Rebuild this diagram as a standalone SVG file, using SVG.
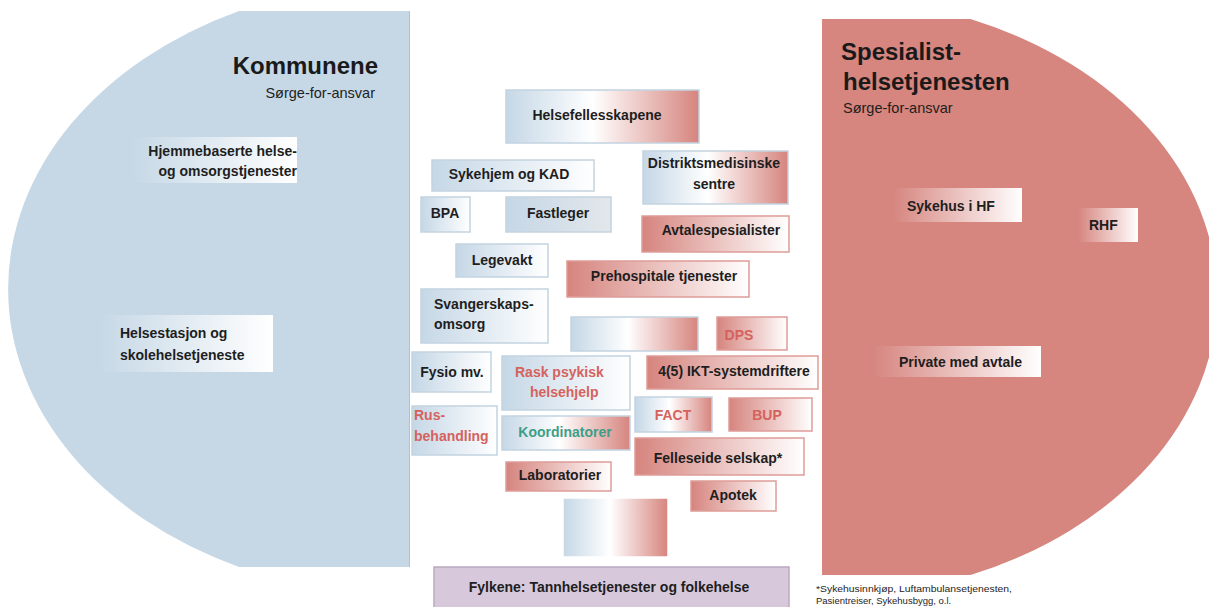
<svg xmlns="http://www.w3.org/2000/svg" width="1209" height="607" viewBox="0 0 1209 607">
<defs>
<linearGradient id="gB" x1="0" y1="0" x2="1" y2="0"><stop offset="0" stop-color="#C5D7E6"/><stop offset="1" stop-color="#FFFFFF"/></linearGradient>
<linearGradient id="gBg" x1="0" y1="0" x2="1" y2="0"><stop offset="0" stop-color="#C5D7E6"/><stop offset="1" stop-color="#E3E7EB"/></linearGradient>
<linearGradient id="gR" x1="0" y1="0" x2="1" y2="0"><stop offset="0" stop-color="#D6847E"/><stop offset="1" stop-color="#FFFFFF"/></linearGradient>
<linearGradient id="gBWR" x1="0" y1="0" x2="1" y2="0"><stop offset="0" stop-color="#C5D7E6"/><stop offset="0.45" stop-color="#FFFFFF"/><stop offset="1" stop-color="#D6847E"/></linearGradient>
<linearGradient id="gBf" x1="0" y1="0" x2="1" y2="0"><stop offset="0" stop-color="#C6D8E6"/><stop offset="1" stop-color="#FFFFFF"/></linearGradient>
<linearGradient id="gRf" x1="0" y1="0" x2="1" y2="0"><stop offset="0" stop-color="#D6857F"/><stop offset="1" stop-color="#FFFFFF"/></linearGradient>
<style>
.t{font-family:"Liberation Sans",Arial,sans-serif;font-weight:bold;font-size:14px;fill:#1E1E1E}
.m{text-anchor:middle}
.e{text-anchor:end}
.tr{fill:#D5625D}
.tg{fill:#3E9E87}
.h{font-family:"Liberation Sans",Arial,sans-serif;font-weight:bold;font-size:24px;fill:#1A1A1A}
.s{font-family:"Liberation Sans",Arial,sans-serif;font-size:14.5px;fill:#1E1E1E}
.fn{font-family:"Liberation Sans",Arial,sans-serif;font-size:9.5px;fill:#1E1E1E}
.bb{stroke:#C3D3E0;stroke-width:1.5}
.rb{stroke:#DE9C98;stroke-width:1.5}
</style>
</defs>
<rect width="1209" height="607" fill="#FFFFFF"/>
<g id="kommunene">
<path d="M409,11 L239,11 A401,307 0 0 0 239,567 L409,567 Z" fill="#C6D8E6"/>
<line x1="409.5" y1="11" x2="409.5" y2="567" stroke="#B0C0CE" stroke-width="1"/>
<text class="h" x="378" y="74" text-anchor="end">Kommunene</text>
<text class="s" x="375" y="98" text-anchor="end">Sørge-for-ansvar</text>
</g>
<g id="spesialist">
<path d="M822,19 L970.5,19 A395,300 0 0 1 970.5,575 L822,575 Z" fill="#D6857F"/>
<text class="h" x="841" y="60">Spesialist-</text>
<text class="h" x="843" y="90">helsetjenesten</text>
<text class="s" x="843" y="113">Sørge-for-ansvar</text>
</g>
<g id="hjemmebaserte"><rect x="133" y="137" width="164" height="46" fill="url(#gBf)"/><text class="t e" x="297" y="156">Hjemmebaserte helse-</text><text class="t e" x="297" y="176">og omsorgstjenester</text></g>
<g id="helsestasjon"><rect x="100" y="315" width="173" height="57" fill="url(#gBf)"/><text class="t" x="120" y="338">Helsestasjon og</text><text class="t" x="120" y="360">skolehelsetjeneste</text></g>
<g id="sykehus"><rect x="893" y="188" width="129" height="34" fill="url(#gRf)"/><text class="t" x="907" y="211">Sykehus i HF</text></g>
<g id="rhf"><rect x="1078" y="208" width="60" height="34" fill="url(#gRf)"/><text class="t" x="1089" y="230">RHF</text></g>
<g id="private"><rect x="873" y="346" width="168" height="31" fill="url(#gRf)"/><text class="t" x="899" y="367">Private med avtale</text></g>
<g id="helsefellesskapene"><rect x="506" y="90" width="193" height="53" fill="url(#gBWR)" class="bb"/><text class="t m" x="597" y="120">Helsefellesskapene</text></g>
<g id="sykehjem"><rect x="432" y="160" width="162" height="31" fill="url(#gB)" class="bb"/><text class="t m" x="509" y="179">Sykehjem og KAD</text></g>
<g id="dms"><rect x="643" y="151" width="145" height="53" fill="url(#gBWR)" class="bb"/><text class="t m" x="714" y="168">Distriktsmedisinske</text><text class="t m" x="714" y="189">sentre</text></g>
<g id="bpa"><rect x="421" y="197" width="49" height="35" fill="url(#gB)" class="bb"/><text class="t m" x="445" y="218">BPA</text></g>
<g id="fastleger"><rect x="506" y="197" width="105" height="35" fill="url(#gBg)" class="bb"/><text class="t m" x="558" y="218">Fastleger</text></g>
<g id="avtalespesialister"><rect x="642" y="216" width="147" height="36" fill="url(#gR)" class="rb"/><text class="t m" x="721" y="235">Avtalespesialister</text></g>
<g id="legevakt"><rect x="456" y="244" width="92" height="33" fill="url(#gB)" class="bb"/><text class="t m" x="502" y="265">Legevakt</text></g>
<g id="prehospitale"><rect x="567" y="261" width="182" height="36" fill="url(#gR)" class="rb"/><text class="t m" x="664" y="281">Prehospitale tjenester</text></g>
<g id="svangerskap"><rect x="421" y="289" width="127" height="54" fill="url(#gB)" class="bb"/><text class="t" x="434" y="309">Svangerskaps-</text><text class="t" x="434" y="329">omsorg</text></g>
<g id="tom1"><rect x="571" y="317" width="127" height="34" fill="url(#gBWR)" class="bb"/></g>
<g id="dps"><rect x="717" y="317" width="70" height="33" fill="url(#gR)" class="rb"/><text class="t m tr" x="739" y="340">DPS</text></g>
<g id="fysio"><rect x="412" y="352" width="79" height="40" fill="url(#gB)" class="bb"/><text class="t m" x="452" y="377">Fysio mv.</text></g>
<g id="rask"><rect x="502" y="356" width="128" height="54" fill="url(#gB)" class="bb"/><text class="t tr" x="515" y="377">Rask psykisk</text><text class="t tr" x="530" y="397">helsehjelp</text></g>
<g id="ikt"><rect x="647" y="356" width="171" height="33" fill="url(#gR)" class="rb"/><text class="t m" x="734" y="376">4(5) IKT-systemdriftere</text></g>
<g id="fact"><rect x="635" y="397" width="77" height="35" fill="url(#gBWR)" class="bb"/><text class="t m tr" x="673" y="420">FACT</text></g>
<g id="bup"><rect x="729" y="398" width="83" height="33" fill="url(#gR)" class="rb"/><text class="t m tr" x="767" y="420">BUP</text></g>
<g id="rus"><rect x="412" y="406" width="85" height="49" fill="url(#gB)" class="bb"/><text class="t tr" x="414" y="420">Rus-</text><text class="t tr" x="414" y="441">behandling</text></g>
<g id="koordinatorer"><rect x="502" y="416" width="128" height="34" fill="url(#gBWR)" class="bb"/><text class="t m tg" x="565" y="437">Koordinatorer</text></g>
<g id="felleseide"><rect x="635" y="438" width="169" height="37" fill="url(#gR)" class="rb"/><text class="t m" x="718" y="463">Felleseide selskap*</text></g>
<g id="laboratorier"><rect x="506" y="462" width="105" height="29" fill="url(#gR)" class="rb"/><text class="t m" x="560" y="480">Laboratorier</text></g>
<g id="apotek"><rect x="691" y="481" width="85" height="30" fill="url(#gR)" class="rb"/><text class="t m" x="733" y="500">Apotek</text></g>
<g id="tom2"><rect x="563" y="498" width="105" height="59" fill="url(#gBWR)" stroke="#FFFFFF" stroke-width="1.5"/></g>
<g id="fylkene"><rect x="434" y="567" width="355" height="50" fill="#D8C8DC" stroke="#BBA8C0" stroke-width="1.5"/><text class="t m" x="609" y="592">Fylkene: Tannhelsetjenester og folkehelse</text></g>
<g id="fotnote"><text class="fn" x="816" y="592" textLength="196" lengthAdjust="spacingAndGlyphs">*Sykehusinnkjøp, Luftambulansetjenesten,</text><text class="fn" x="816" y="604">Pasientreiser, Sykehusbygg, o.l.</text></g>
</svg>
